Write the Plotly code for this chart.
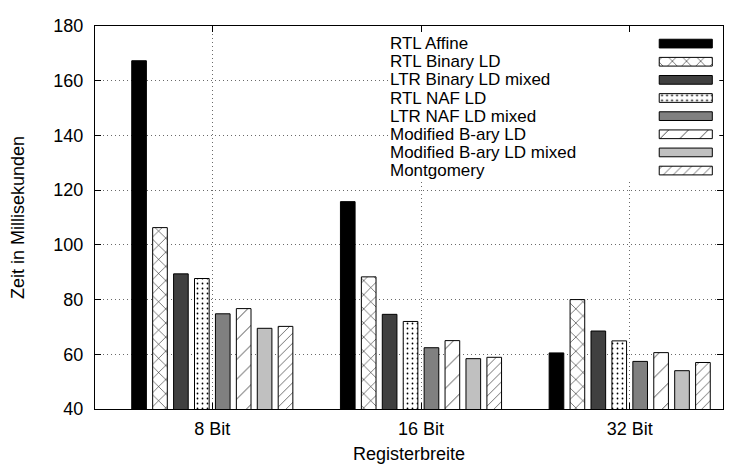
import plotly.graph_objects as go

categories = ["8 Bit", "16 Bit", "32 Bit"]
series_names = [
    "RTL Affine",
    "RTL Binary LD",
    "LTR Binary LD mixed",
    "RTL NAF LD",
    "LTR NAF LD mixed",
    "Modified B-ary LD",
    "Modified B-ary LD mixed",
    "Montgomery",
]
rtl_affine = [167.3, 115.8, 60.5]
rtl_binary_ld = [106.3, 88.3, 80.0]
ltr_binary_ld_mixed = [89.4, 74.6, 68.5]
rtl_naf_ld = [87.7, 72.0, 64.9]
ltr_naf_ld_mixed = [74.8, 62.4, 57.4]
modified_bary_ld = [76.7, 65.0, 60.6]
modified_bary_ld_mixed = [69.5, 58.4, 54.0]
montgomery = [70.2, 58.9, 57.0]

values = [rtl_affine, rtl_binary_ld, ltr_binary_ld_mixed, rtl_naf_ld,
          ltr_naf_ld_mixed, modified_bary_ld, modified_bary_ld_mixed, montgomery]

def pat(shape, size, solidity):
    return dict(shape=shape, fgcolor="black", bgcolor="white", size=size,
                solidity=solidity, fillmode="replace")

styles = [
    dict(color="#000000"),
    dict(color="white", pattern=pat("x", 10, 0.1)),
    dict(color="#404040"),
    dict(color="white", pattern=pat(".", 5, 0.1)),
    dict(color="#808080"),
    dict(color="white", pattern=pat("/", 14, 0.05)),
    dict(color="#c0c0c0"),
    dict(color="white", pattern=pat("/", 7, 0.08)),
]

FONT = "Liberation Sans, Arial, sans-serif"
FS = 18
KEY_FS = 17
n = len(series_names)
# key box geometry (fractions of the key sub-area)
KEY_TOP, KEY_BOTTOM = -0.59, n - 0.46
SW_START, SW_LEN = 0.818, 0.161

fig = go.Figure()

for name, vals, st in zip(series_names, values, styles):
    m = dict(st)
    m["line"] = dict(color="black", width=1)
    fig.add_trace(go.Bar(x=categories, y=vals, name=name, marker=m,
                         showlegend=False, hoverinfo="skip"))

# gnuplot-style key: text on the left, sample on the right
for i, (name, st) in enumerate(zip(series_names, styles)):
    m = dict(st)
    m["line"] = dict(color="black", width=1)
    fig.add_trace(go.Bar(x=[SW_LEN], y=[i], base=SW_START, orientation="h",
                         width=0.48, xaxis="x2", yaxis="y2", offsetgroup="sw",
                         marker=m, showlegend=False, hoverinfo="skip"))
    fig.add_annotation(text=name, xref="paper", yref="y2", x=0.468, y=i,
                       xanchor="left", yanchor="middle", showarrow=False,
                       borderpad=0,
                       font=dict(family=FONT, size=KEY_FS, color="black"))

# opaque key background hiding the grid behind the key
fig.add_shape(type="rect", xref="x2", yref="y2",
              x0=0, x1=1, y0=KEY_TOP, y1=KEY_BOTTOM,
              fillcolor="white", line=dict(width=0), layer="below")

GRID = dict(showgrid=True, gridcolor="#6a6a6a", griddash="1px,3px", gridwidth=1)

fig.update_layout(
    width=724, height=460,
    margin=dict(l=87, r=8, t=9, b=59),
    paper_bgcolor="white", plot_bgcolor="white",
    barmode="group", bargap=0.198, bargroupgap=0.3,
    font=dict(family=FONT, size=FS, color="black"),
    xaxis=dict(
        type="category", categoryorder="array", categoryarray=categories,
        range=[-0.562, 2.447], **GRID,
        showline=True, linecolor="black", linewidth=1, mirror="ticks",
        ticks="inside", ticklen=6, tickcolor="black",
        ticklabelstandoff=3,
        title=dict(text="Registerbreite", font=dict(size=FS), standoff=9),
        zeroline=False,
    ),
    yaxis=dict(
        range=[40, 180], dtick=20, tick0=40, **GRID,
        showline=True, linecolor="black", linewidth=1, mirror="ticks",
        ticks="inside", ticklen=6, tickcolor="black",
        ticklabelstandoff=7, ticklabeloverflow="allow",
        title=dict(text="Zeit in Millisekunden", font=dict(size=FS), standoff=24),
        zeroline=False,
    ),
    xaxis2=dict(domain=[0.469, 0.994], range=[0, 1], anchor="y2",
                visible=False, fixedrange=True),
    yaxis2=dict(domain=[0.597, 0.982], range=[KEY_BOTTOM, KEY_TOP], anchor="x2",
                visible=False, fixedrange=True),
)

fig.write_html("out.html")
